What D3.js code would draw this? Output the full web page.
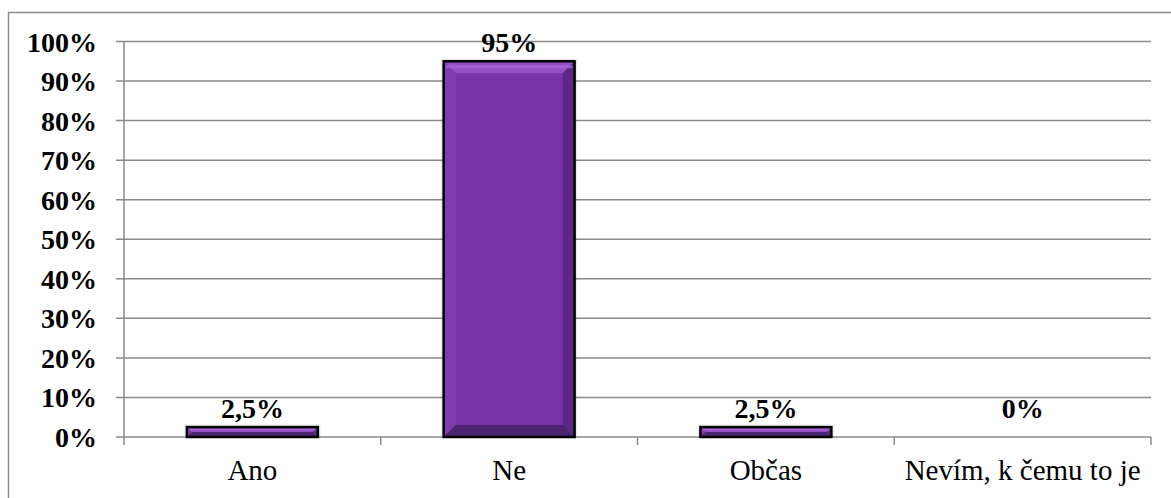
<!DOCTYPE html>
<html>
<head>
<meta charset="utf-8">
<script src="https://cdn.jsdelivr.net/npm/d3@7"></script>
<style>
  html, body { margin: 0; padding: 0; background: #fff; }
  svg { display: block; }
  text.serif { font-family: "Liberation Serif"; }
</style>
</head>
<body>
<svg id="chart" width="1171" height="498"></svg>
<script>
// Survey answers and their shares (percent)
const categories = ["Ano", "Ne", "Občas", "Nevím, k čemu to je"];
const values = [2.5, 95, 2.5, 0];
const valueLabels = ["2,5%", "95%", "2,5%", "0%"];
const yTicks = [0, 10, 20, 30, 40, 50, 60, 70, 80, 90, 100];

const W = 1171, H = 498;
const margin = { left: 124, right: 20, top: 41.5, bottom: 61 };
const svg = d3.select("#chart");

const x = d3.scaleBand()
  .domain(categories)
  .range([margin.left, W - margin.right])
  .paddingInner(0.49)
  .paddingOuter(0.245);
const xOuter = d3.scaleBand().domain(categories).range([margin.left, W - margin.right]);
const y = d3.scaleLinear().domain([0, 100]).range([H - margin.bottom, margin.top]);

const grey = "#8a8a8a";

// chart frame
svg.append("rect")
  .attr("x", 8.5).attr("y", 12.5)
  .attr("width", W + 20).attr("height", H + 20)
  .attr("fill", "none").attr("stroke", grey).attr("stroke-width", 1.5);

// horizontal gridlines
svg.append("g")
  .selectAll("line")
  .data(yTicks)
  .join("line")
  .attr("x1", margin.left - 8).attr("x2", W - margin.right)
  .attr("y1", d => y(d)).attr("y2", d => y(d))
  .attr("stroke", grey).attr("stroke-width", 1.5);

// y axis line
svg.append("line")
  .attr("x1", margin.left).attr("x2", margin.left)
  .attr("y1", y(100)).attr("y2", y(0) + 8)
  .attr("stroke", grey).attr("stroke-width", 1.5);

// category separators on x axis
const seps = categories.map(c => xOuter(c) + xOuter.bandwidth());
svg.append("g")
  .selectAll("line")
  .data(seps)
  .join("line")
  .attr("x1", d => d).attr("x2", d => d)
  .attr("y1", y(0)).attr("y2", y(0) + 8)
  .attr("stroke", grey).attr("stroke-width", 1.5);

// y tick labels
svg.append("g")
  .selectAll("text")
  .data(yTicks)
  .join("text")
  .attr("class", "serif")
  .attr("x", 97)
  .attr("y", d => y(d) + 10)
  .attr("text-anchor", "end")
  .attr("font-weight", "bold")
  .attr("font-size", 28)
  .text(d => d + "%");

// bevelled bars, each with a faint halo
const bars = svg.append("g");
categories.forEach((c, i) => {
  const v = values[i];
  if (v <= 0) return;
  const x0 = x(c), x1 = x(c) + x.bandwidth();
  const y0 = y(v), y1 = y(0);
  const h = y1 - y0, w = x1 - x0;
  const b = Math.min(12, h / 2, w / 2);
  const g = bars.append("g");
  for (let k = 3; k >= 1; k--) {
    g.append("rect").attr("x", x0 - k).attr("y", y0 - k).attr("width", w + 2 * k).attr("height", h + k)
      .attr("fill", "#000").attr("opacity", 0.05);
  }
  g.append("rect").attr("x", x0).attr("y", y0).attr("width", w).attr("height", h).attr("fill", "#7835a8");
  const poly = (pts, fill) => g.append("polygon").attr("points", pts.map(p => p.join(",")).join(" ")).attr("fill", fill);
  poly([[x0, y0], [x1, y0], [x1 - b, y0 + b], [x0 + b, y0 + b]], "#9350c6");
  poly([[x0, y0], [x0 + b, y0 + b], [x0 + b, y1 - b], [x0, y1]], "#7f3bb0");
  poly([[x1, y0], [x1, y1], [x1 - b, y1 - b], [x1 - b, y0 + b]], "#5b2985");
  poly([[x0, y1], [x0 + b, y1 - b], [x1 - b, y1 - b], [x1, y1]], "#4c236f");
  if (h > 6) {
    g.append("line").attr("x1", x0 + 2).attr("x2", x1 - 2)
      .attr("y1", y0 + b * 0.45).attr("y2", y0 + b * 0.45)
      .attr("stroke", "#a96ad8").attr("stroke-width", Math.min(3, b * 0.5)).attr("opacity", 0.7);
  }
  g.append("rect").attr("x", x0).attr("y", y0).attr("width", w).attr("height", h)
    .attr("fill", "none").attr("stroke", "#000").attr("stroke-width", 2.5);
});

// value labels above bars
svg.append("g")
  .selectAll("text")
  .data(categories)
  .join("text")
  .attr("class", "serif")
  .attr("x", d => x(d) + x.bandwidth() / 2)
  .attr("y", (d, i) => Math.min(y(values[i]), y(2.5)) - 9)
  .attr("text-anchor", "middle")
  .attr("font-weight", "bold")
  .attr("font-size", 28)
  .text((d, i) => valueLabels[i]);

// category labels
svg.append("g")
  .selectAll("text")
  .data(categories)
  .join("text")
  .attr("class", "serif")
  .attr("x", d => xOuter(d) + xOuter.bandwidth() / 2)
  .attr("y", 480)
  .attr("text-anchor", "middle")
  .attr("font-size", 29)
  .text(d => d);
</script>
</body>
</html>
